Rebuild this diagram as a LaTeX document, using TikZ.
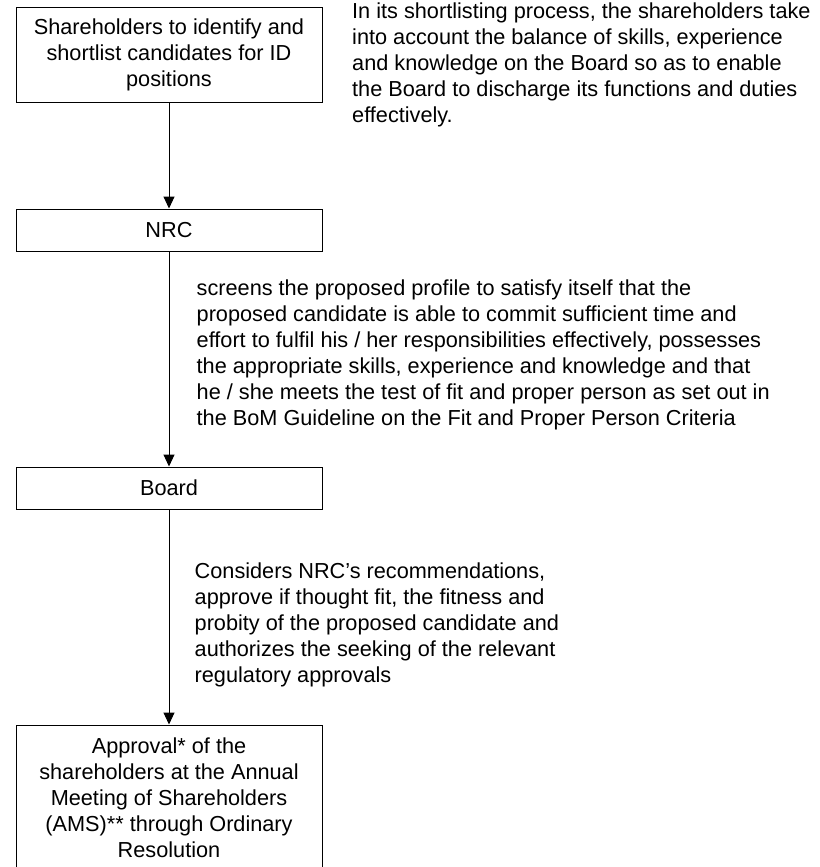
\documentclass[tikz,border=0pt]{standalone}
\usepackage{fontspec}
\setmainfont{Liberation Sans}
\usetikzlibrary{positioning, arrows.meta}

\begin{document}
\begin{tikzpicture}[x=1pt, y=1pt, node distance=175pt, on grid,
    txt/.style={font=\fontsize{21.7}{26}\selectfont},
    box/.style={txt, draw, rectangle, line width=1pt, minimum width=306pt, align=center},
    note/.style={txt, anchor=north west, inner sep=0pt, align=left},
    >={Triangle[width=11pt, length=12pt]}]
  \useasboundingbox (0,0) rectangle (819,-867);
  \begin{scope}
  \clip (0,0) rectangle (819,-867);
  \node[box, minimum height=94pt] (shortlist) at (169,-55)
    {Shareholders to identify and\\shortlist candidates for ID\\positions};
  \node[box, minimum height=42pt] [below=of shortlist] (nrc) {NRC};
  \node[box, minimum height=42pt] [below=258pt of nrc] (board) {Board};
  \node[box, minimum height=146pt] [below=310pt of board] (ams)
    {Approval* of the\\shareholders at the Annual\\Meeting of Shareholders\\(AMS)** through Ordinary\\Resolution};
  \end{scope}
  % notes beside the flow
  \node[note] (shortnote) at (352,-2.5)
    {In its shortlisting process, the shareholders take\\
     into account the balance of skills, experience\\
     and knowledge on the Board so as to enable\\
     the Board to discharge its functions and duties\\
     effectively.};
  \node[note] (nrcnote) at (196.5,-279.5)
    {screens the proposed profile to satisfy itself that the\\
     proposed candidate is able to commit sufficient time and\\
     effort to fulfil his / her responsibilities effectively, possesses\\
     the appropriate skills, experience and knowledge and that\\
     he / she meets the test of fit and proper person as set out in\\
     the BoM Guideline on the Fit and Proper Person Criteria};
  \node[note] (boardnote) at (194.5,-563)
    {Considers NRC’s recommendations,\\
     approve if thought fit, the fitness and\\
     probity of the proposed candidate and\\
     authorizes the seeking of the relevant\\
     regulatory approvals};
  \path[->, line width=1pt]
    (shortlist) edge (nrc)
    (nrc) edge (board)
    (board) edge (ams);
\end{tikzpicture}
\end{document}
